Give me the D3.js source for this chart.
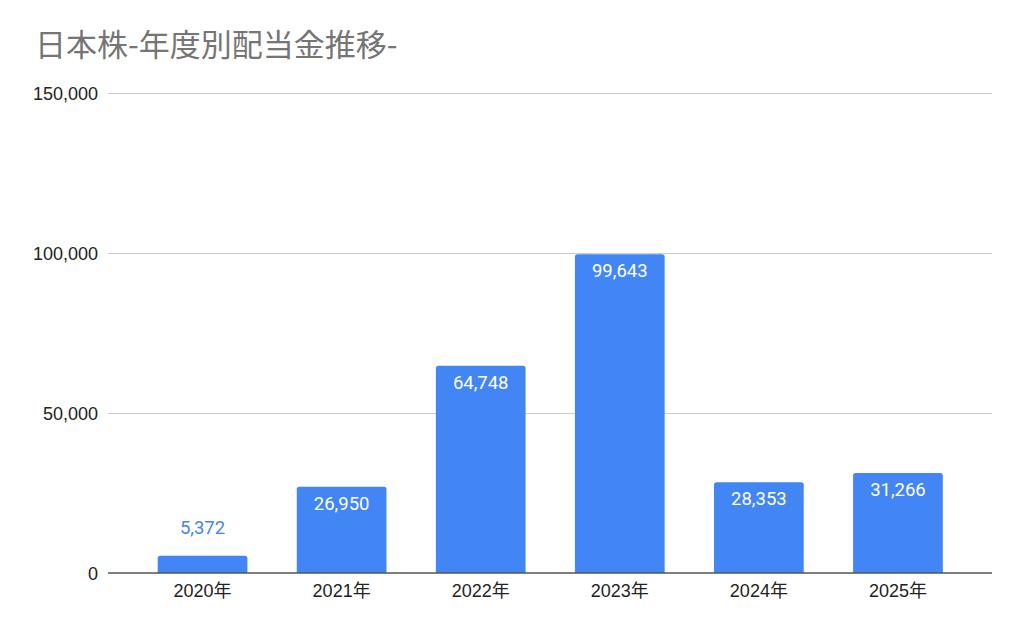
<!DOCTYPE html>
<html>
<head>
<meta charset="utf-8">
<script src="https://cdn.jsdelivr.net/npm/d3@7"></script>
<style>
  html, body { margin: 0; padding: 0; background: #fff; }
  svg { display: block; }
</style>
</head>
<body>
<svg id="chart" width="1024" height="633"></svg>
<script>
const title = "日本株-年度別配当金推移-";
const categories = ["2020年", "2021年", "2022年", "2023年", "2024年", "2025年"];
const values = [5372, 26950, 64748, 99643, 28353, 31266];
const yTicks = [0, 50000, 100000, 150000];

const svg = d3.select("#chart");
const W = 1024, H = 633;
const plot = { left: 108, right: 992, top: 93, bottom: 573 };

const x = d3.scaleBand()
  .domain(categories)
  .range([133, 967.5])
  .paddingInner(0.355)
  .paddingOuter(0.1775);

const y = d3.scaleLinear()
  .domain([0, 150000])
  .range([plot.bottom, plot.top]);

const fmt = d3.format(",");

// Title
svg.append("text")
  .attr("x", 35)
  .attr("y", 55.5)
  .attr("fill", "#757575")
  .attr("font-family", "'Noto Sans CJK JP', 'Noto Sans', sans-serif")
  .attr("font-size", 31)
  .text(title);

// Gridlines
svg.append("g")
  .selectAll("line")
  .data(yTicks.filter(d => d !== 0))
  .join("line")
  .attr("x1", plot.left)
  .attr("x2", plot.right)
  .attr("y1", d => Math.round(y(d)) + 0.5)
  .attr("y2", d => Math.round(y(d)) + 0.5)
  .attr("stroke", "#cccccc")
  .attr("stroke-width", 1);

// Y axis labels
const yAxis = d3.axisLeft(y).tickValues(yTicks).tickFormat(fmt).tickSize(0).tickPadding(0);
const gy = svg.append("g")
  .attr("transform", `translate(98,0)`)
  .call(yAxis);
gy.select(".domain").remove();
gy.selectAll("text")
  .attr("fill", "#222222")
  .attr("font-family", "'Liberation Sans', Arial, sans-serif")
  .attr("font-size", 18)
  .attr("dy", "0.34em");

// Bars with rounded top corners
function barPath(x0, w, yTop, yBottom, r) {
  const h = yBottom - yTop;
  r = Math.min(r, h, w / 2);
  return `M${x0},${yBottom}V${yTop + r}Q${x0},${yTop} ${x0 + r},${yTop}` +
         `H${x0 + w - r}Q${x0 + w},${yTop} ${x0 + w},${yTop + r}V${yBottom}Z`;
}

const data = categories.map((c, i) => ({ c, v: values[i] }));

svg.append("g")
  .selectAll("path")
  .data(data)
  .join("path")
  .attr("d", d => barPath(x(d.c), x.bandwidth(), y(d.v), y(0), 2.5))
  .attr("fill", "#4285f4");

// Baseline
svg.append("line")
  .attr("x1", plot.left)
  .attr("x2", plot.right)
  .attr("y1", y(0))
  .attr("y2", y(0))
  .attr("stroke", "#555555")
  .attr("stroke-width", 1.5);

// X axis labels
const xAxis = d3.axisBottom(x).tickSize(0).tickPadding(0);
const gx = svg.append("g")
  .attr("transform", `translate(0,${y(0)})`)
  .call(xAxis);
gx.select(".domain").remove();
gx.selectAll("text")
  .attr("fill", "#222222")
  .attr("font-family", "'Liberation Sans', Arial, 'Noto Sans CJK JP', sans-serif")
  .attr("font-size", 18)
  .attr("dy", null)
  .attr("y", 24);

// Data labels
svg.append("g")
  .selectAll("text")
  .data(data)
  .join("text")
  .attr("x", d => x(d.c) + x.bandwidth() / 2)
  .attr("y", d => {
    const h = y(0) - y(d.v);
    return h > 40 ? y(d.v) + 23 : y(d.v) - 21.5;
  })
  .attr("text-anchor", "middle")
  .attr("fill", d => (y(0) - y(d.v) > 40 ? "#ffffff" : "#4285f4"))
  .attr("font-family", "Roboto, sans-serif")
  .attr("font-size", 18.5)
  .text(d => fmt(d.v));
</script>
</body>
</html>
